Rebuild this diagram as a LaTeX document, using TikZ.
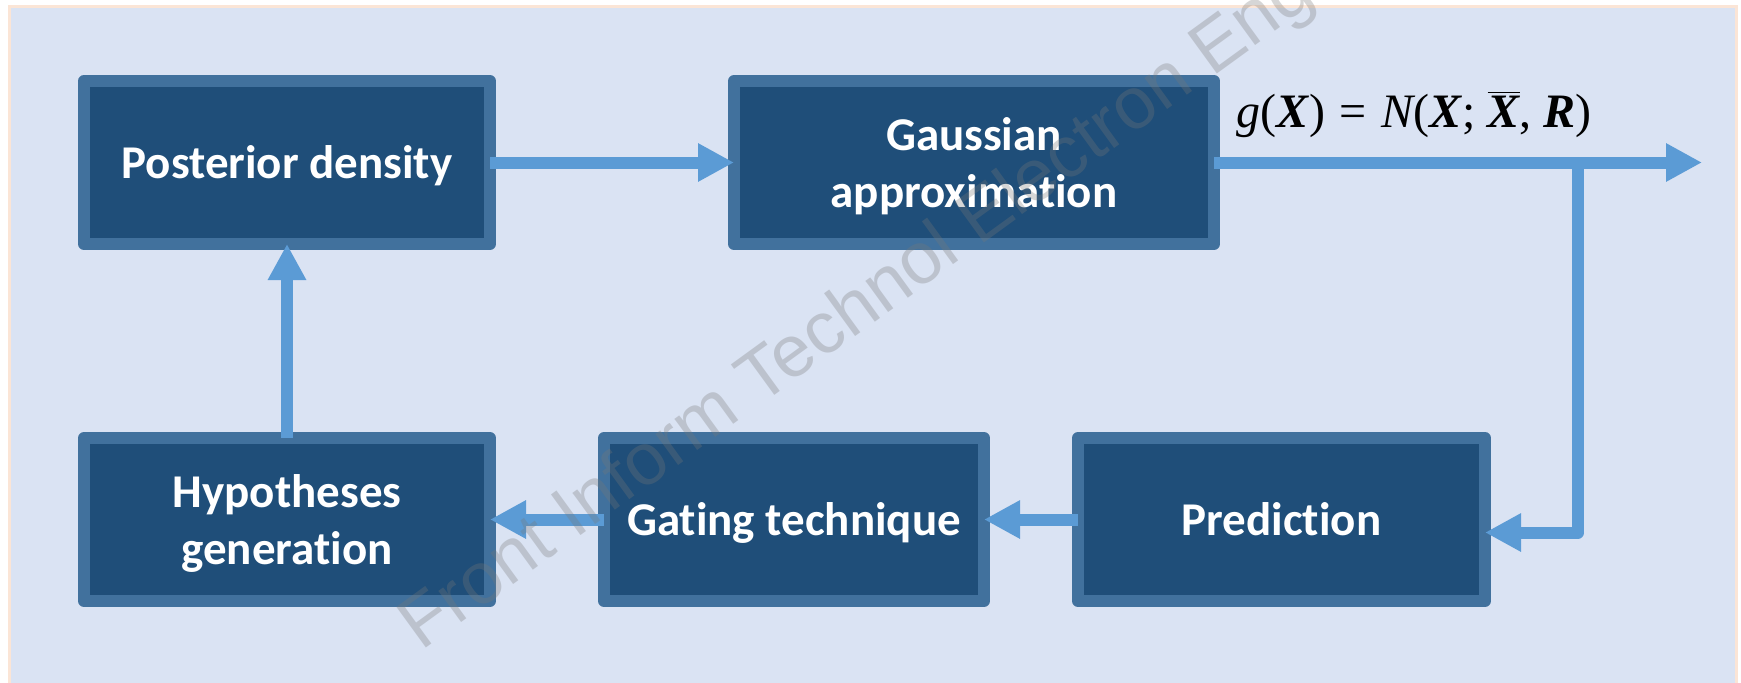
\documentclass[tikz,border=0pt]{standalone}
\usepackage{fontspec}
\setmainfont{Liberation Serif}
\newfontfamily\boxfont{Carlito}[RawFeature={-liga;-clig;-calt}]
\newfontfamily\markfont{Liberation Sans}
\usetikzlibrary{arrows.meta, positioning}
\usepackage{xcolor}
\definecolor{boxFill}{RGB}{31,78,121}
\definecolor{boxLine}{RGB}{65,113,157}
\definecolor{flowBlue}{RGB}{91,155,213}
\definecolor{bgBlue}{RGB}{218,227,243}
\definecolor{frameOrange}{RGB}{251,229,214}
\definecolor{markGray}{RGB}{120,120,120}
\tikzset{
    >={Triangle[length=18pt, width=18pt]},
    % Frame
    bgframe/.style={draw=frameOrange, line width=1.5pt, fill=bgBlue},
    % Shapes
    box/.style={rectangle, draw=boxLine, fill=boxFill, line width=6pt, line join=round,
                minimum height=81.5pt, inner sep=0pt, outer sep=0pt, align=center,
                text=white, font=\boxfont\bfseries\fontsize{23.5pt}{28.5pt}\selectfont},
    oneline/.style={text height=20.5pt, text depth=5pt},
    twoline/.style={text height=49.5pt, text depth=5pt},
    % Flow & Labels
    flow/.style={->, line width=6pt, draw=flowBlue, line join=round},
    formula/.style={inner sep=0pt, font=\fontsize{24pt}{28pt}\selectfont},
    watermark/.style={inner sep=0pt, text=markGray, text opacity=0.3,
                      font=\markfont\fontsize{36.5pt}{40pt}\selectfont}
}

\begin{document}
\begin{tikzpicture}[x=0.5pt, y=0.5pt]

\clip (0,0) rectangle (1741,682);
\draw[bgframe] (9,-10) rectangle (1736,675.5);

\node[box, oneline, minimum width=203pt] (post) at (287,519.5) {Posterior density};
\node[box, twoline, minimum width=240pt, right=122pt of post] (gauss) {Gaussian\\approximation};
\node[box, twoline, minimum width=203pt, below=97pt of post] (hyp) {Hypotheses\\generation};
\node[box, oneline, minimum width=190pt, right=57pt of hyp] (gate) {Gating technique};
\node[box, oneline, minimum width=203.5pt, right=47pt of gate] (pred) {Prediction};

\coordinate (split) at (1578,519.5);
\coordinate (out) at (1702,519.5);

\draw[flow] (post) -- (gauss);
\draw[flow] (gauss) -- (out);
\draw[flow] (split) |- ([yshift=-6.5pt]pred.east);
\draw[flow] (pred) -- (gate);
\draw[flow] (gate) -- (hyp);
\draw[flow] (hyp) -- (post);

\node[formula, anchor=base west] (gx) at (1236,555)
    {{\itshape g}(\textbf{\itshape X})\hspace{0.3em}=\hspace{0.3em}{\itshape N}(\textbf{\itshape X};\hspace{0.25em}$\overline{\mbox{\bfseries\itshape X}}$,\hspace{0.25em}\textbf{\itshape R})};

\node[watermark, rotate=36, anchor=base west] (mark) at (421,30) {Front Inform Technol Electron Eng};

\end{tikzpicture}
\end{document}
